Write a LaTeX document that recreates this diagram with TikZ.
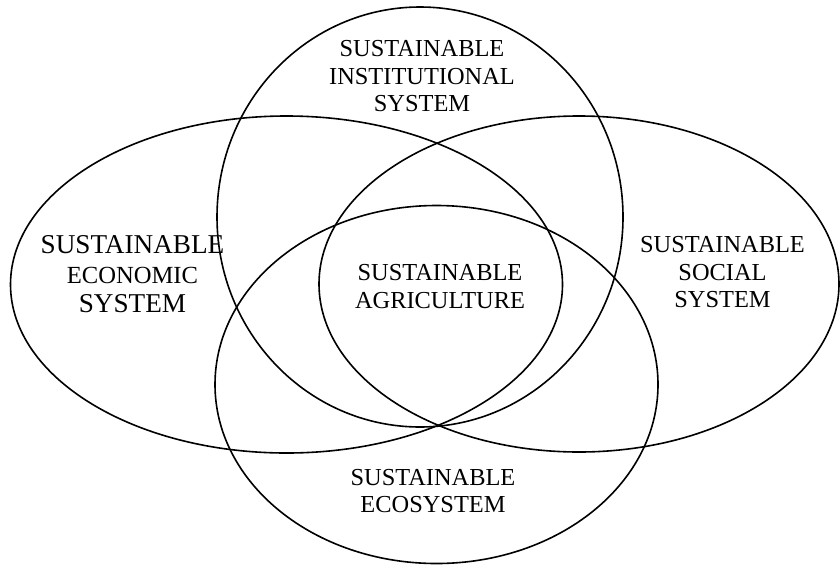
\documentclass[tikz,border=0pt]{standalone}
\usepackage{fontspec}
\setmainfont{Liberation Serif}
\usepackage{tikz}

\tikzset{
  ring/.style={draw=black,line width=1.6pt},
  label/.style={align=center,inner sep=0pt,font=\fontsize{24.4}{27.5}\selectfont}
}

\begin{document}
\begin{tikzpicture}[x=1pt,y=-1pt]
          \useasboundingbox (0,0) rectangle (840,565);
          \draw[ring] (286.5,284.5) ellipse [x radius=276pt,y radius=168.5pt];
          \draw[ring] (420,217) ellipse [x radius=203pt,y radius=210pt];
          \draw[ring] (579,284) ellipse [x radius=260pt,y radius=168pt];
          \draw[ring] (436.5,384.5) ellipse [x radius=221.5pt,y radius=179pt];
          \node[label] (institutional) at (422,76.5) {SUSTAINABLE\\INSTITUTIONAL\\SYSTEM};
          \node[label,font=\fontsize{27.2}{29.5}\selectfont] (economic) at (132.5,274.6)
            {SUSTAINABLE\\{\fontsize{24.6}{29.5}\selectfont ECONOMIC}\\SYSTEM};
          \node[label] (social) at (722.5,272.5) {SUSTAINABLE\\SOCIAL\\SYSTEM};
          \node[label,font=\fontsize{24.4}{28}\selectfont] (agriculture) at (440,287) {SUSTAINABLE\\AGRICULTURE};
          \node[label,font=\fontsize{24.4}{27}\selectfont] (ecosystem) at (433,491.5) {SUSTAINABLE\\ECOSYSTEM};
        \end{tikzpicture}
\end{document}
